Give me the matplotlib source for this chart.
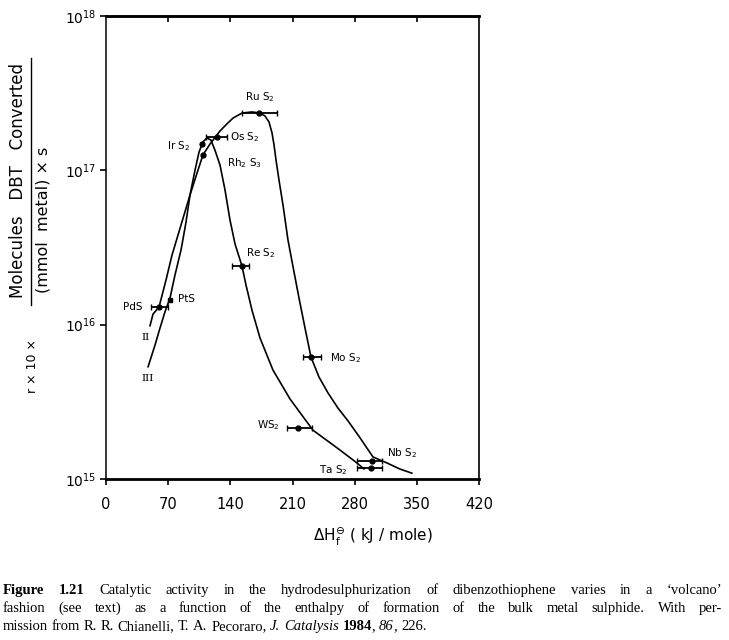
import matplotlib
matplotlib.use("Agg")
import matplotlib.pyplot as plt
from matplotlib.ticker import NullLocator, FixedLocator
from matplotlib.lines import Line2D

# ---------------- data ----------------
compounds = ['RuS2', 'OsS2', 'IrS2', 'Rh2S3', 'ReS2', 'PdS', 'PtS',
             'MoS2', 'WS2', 'NbS2', 'TaS2']
dH = [172, 125, 108, 109, 153, 60, 72, 231, 216, 299, 298]          # kJ/mole
rate = [2.35e17, 1.64e17, 1.48e17, 1.26e17, 2.4e16, 1.30e16, 1.45e16,
        6.2e15, 2.14e15, 1.31e15, 1.18e15]
err_lo = [19, 12, 0, 0, 11, 9, 0, 9, 12, 16, 15]
err_hi = [21, 11, 0, 0, 8, 10, 0, 11, 16, 12, 13]

# curve II (second-row metals, outer volcano)
curve2_x = [49.5, 52.9, 59.7, 67.6, 74.3, 84.5, 94.6, 102.5, 109.2, 117.1,
            128.4, 136.2, 143.0, 153.1, 164.4, 173.4, 179.0, 183.5, 186.9,
            189.2, 191.4, 194.8, 199.3, 204.9, 210.6, 217.3, 224.1, 230.8,
            239.8, 250.0, 261.2, 272.5, 286.0, 300.6, 316.4, 331.0, 344.6]
curve2_y = [9.8e15, 1.17e16, 1.30e16, 1.95e16, 2.82e16, 4.43e16, 6.92e16,
            9.6e16, 1.26e17, 1.48e17, 1.80e17, 2.0e17, 2.18e17, 2.35e17,
            2.39e17, 2.35e17, 2.25e17, 2.06e17, 1.75e17, 1.46e17, 1.17e17,
            8.65e16, 5.96e16, 3.54e16, 2.37e16, 1.49e16, 9.5e15, 6.17e15,
            4.58e15, 3.61e15, 2.88e15, 2.38e15, 1.85e15, 1.39e15, 1.27e15,
            1.16e15, 1.09e15]

# curve III (third-row metals, inner volcano)
curve3_x = [47.3, 55.2, 60.8, 66.4, 72.1, 77.7, 84.5, 90.1, 94.6, 100.2,
            104.7, 109.2, 113.7, 118.2, 122.7, 128.4, 134.0, 139.6, 145.3,
            153.1, 157.6, 164.4, 173.4, 188.0, 207.2, 233.1, 263.5, 282.6, 290.5]
curve3_y = [5.32e15, 7.38e15, 9.5e15, 1.21e16, 1.49e16, 2.10e16, 3.05e16,
            4.62e16, 6.92e16, 1.0e17, 1.31e17, 1.53e17, 1.62e17, 1.57e17,
            1.35e17, 1.08e17, 7.46e16, 4.77e16, 3.33e16, 2.40e16, 1.81e16,
            1.24e16, 8.2e15, 5.08e15, 3.30e15, 2.07e15, 1.54e15, 1.27e15, 1.16e15]

x_ticks = [0, 70, 140, 210, 280, 350, 420]
x_ticklabels = ['0', '70', '140', '210', '280', '350', '420']
y_ticks = [1e15, 1e16, 1e17, 1e18]
y_ticklabels = [r'$\mathregular{10^{15}}$', r'$\mathregular{10^{16}}$',
                r'$\mathregular{10^{17}}$', r'$\mathregular{10^{18}}$']

label_text = {
    'RuS2': r'Ru S$\mathregular{_2}$', 'OsS2': r'Os S$\mathregular{_2}$',
    'IrS2': r'Ir S$\mathregular{_2}$', 'Rh2S3': r'Rh$\mathregular{_2}$ S$\mathregular{_3}$',
    'ReS2': r'Re S$\mathregular{_2}$', 'PdS': 'PdS', 'PtS': 'PtS',
    'MoS2': r'Mo S$\mathregular{_2}$', 'WS2': r'WS$\mathregular{_2}$',
    'NbS2': r'Nb S$\mathregular{_2}$', 'TaS2': r'Ta S$\mathregular{_2}$',
}
# label placement (offset in pixels from the point, alignment)
label_layout = {
    'RuS2': (-14, 16, 'left'), 'OsS2': (13, 0, 'left'), 'IrS2': (-12, -2, 'right'),
    'Rh2S3': (24, -8, 'left'), 'ReS2': (4, 13, 'left'), 'PdS': (-17, 0, 'right'),
    'PtS': (8, 1, 'left'), 'MoS2': (19, -1, 'left'), 'WS2': (-18, 3, 'right'),
    'NbS2': (15, 8, 'left'), 'TaS2': (-23, -2, 'right'),
}

caption_lines = [
    [[('Figure', 'bold')], [('1.21', 'bold')], [('Catalytic', '')], [('activity', '')],
     [('in', '')], [('the', '')], [('hydrodesulphurization', '')], [('of', '')],
     [('dibenzothiophene', '')], [('varies', '')], [('in', '')], [('a', '')],
     [('\u2018volcano\u2019', '')]],
    [[(w, '')] for w in 'fashion (see text) as a function of the enthalpy of formation of the bulk metal sulphide. With per-'.split()],
    [[(w, '')] for w in 'mission from R. R. Chianelli, T. A. Pecoraro,'.split()] +
    [[('J.', 'italic')], [('Catalysis', 'italic')], [('1984', 'bold'), (',', '')],
     [('86', 'italic'), (',', '')], [('226.', '')]],
]

# ---------------- figure ----------------
W, H = 729, 640
fig = plt.figure(figsize=(W / 100, H / 100), dpi=100)
ax = fig.add_axes([106 / W, 1 - 479 / H, 373 / W, 463 / H])
ax.set_yscale('log')
ax.set_xlim(0, 420)
ax.set_ylim(1e15, 1e18)

ax.plot(curve2_x, curve2_y, color='k', lw=1.2, solid_capstyle='round',
        solid_joinstyle='round')
ax.plot(curve3_x, curve3_y, color='k', lw=1.2, solid_capstyle='round',
        solid_joinstyle='round')

for i, c in enumerate(compounds):
    marker = 's' if c == 'PtS' else 'o'
    if err_lo[i] or err_hi[i]:
        ax.errorbar(dH[i], rate[i], xerr=[[err_lo[i]], [err_hi[i]]], fmt=marker,
                    ms=3.5, color='k', ecolor='k', elinewidth=1.3, capsize=2.5,
                    capthick=1.0)
    else:
        ax.plot(dH[i], rate[i], marker=marker, ms=3.5, color='k', ls='none')
    dx, dy, ha = label_layout[c]
    ax.annotate(label_text[c], (dH[i], rate[i]), xytext=(dx, dy),
                textcoords='offset pixels', ha=ha, va='center', fontsize=7.5)

ax.annotate('II', (curve2_x[0], curve2_y[0]), xytext=(-4, -11),
            textcoords='offset pixels', ha='center', va='center', fontsize=7.5,
            family='DejaVu Serif')
ax.annotate('III', (curve3_x[0], curve3_y[0]), xytext=(0, -12),
            textcoords='offset pixels', ha='center', va='center', fontsize=7.5,
            family='DejaVu Serif')

ax.xaxis.set_major_locator(FixedLocator(x_ticks))
ax.set_xticklabels(x_ticklabels, fontsize=10.5)
ax.yaxis.set_major_locator(FixedLocator(y_ticks))
ax.set_yticklabels(y_ticklabels, fontsize=10)
ax.yaxis.set_minor_locator(NullLocator())
ax.xaxis.set_minor_locator(NullLocator())
ax.tick_params(axis='x', direction='out', length=4, width=1.2, pad=9)
ax.tick_params(axis='y', direction='out', length=4, width=1.2, pad=3)

top = ax.secondary_xaxis('top')
top.xaxis.set_major_locator(FixedLocator([70, 140, 210, 280, 350]))
top.tick_params(direction='in', length=4, width=1.2, labeltop=False)
top.spines['top'].set_linewidth(1.8)

ax.spines['bottom'].set_linewidth(2.0)
ax.spines['top'].set_linewidth(1.8)
ax.spines['left'].set_linewidth(1.1)
ax.spines['right'].set_linewidth(1.2)

# axis labels
fig.text(373 / W, 1 - 537 / H, r'$\mathregular{\Delta H_f^{\ominus}}$ ( kJ / mole)',
         ha='center', va='center', fontsize=11)
fig.text(18 / W, 1 - 181 / H, 'Molecules   DBT   Converted', rotation=90,
         ha='center', va='center', fontsize=12)
fig.add_artist(Line2D([31 / W, 31 / W], [1 - 58 / H, 1 - 305 / H], color='k', lw=1.0))
fig.text(43 / W, 1 - 220 / H, '(mmol  metal) \u00d7 s', rotation=90,
         ha='center', va='center', fontsize=11.5)
fig.text(33 / W, 1 - 366 / H, 'r \u00d7 10 \u00d7', rotation=90,
         ha='center', va='center', fontsize=9)

# caption (justified like the printed page)
renderer = fig.canvas.get_renderer()
x0, x1 = 3, 722
baselines = [594, 612, 630]
fs = 10.5


def make(txt, style, x, y):
    kw = dict(fontsize=fs, family='Liberation Serif', va='baseline', ha='left')
    if style == 'bold':
        kw['fontweight'] = 'bold'
    if style == 'italic':
        kw['fontstyle'] = 'italic'
    return fig.text(x / W, 1 - y / H, txt, **kw)


def width(t):
    return t.get_window_extent(renderer=renderer).width


probe = make('a a', '', 0, 0)
probe2 = make('aa', '', 0, 0)
space = width(probe) - width(probe2)
probe.remove(); probe2.remove()

for li, words in enumerate(caption_lines):
    y = baselines[li]
    widths = []
    for word in words:
        wsum = 0
        for seg, st in word:
            t = make(seg, st, 0, 0)
            wsum += width(t)
            t.remove()
        widths.append(wsum)
    if li < 2:
        gap = (x1 - x0 - sum(widths)) / (len(words) - 1)
    else:
        gap = space
    x = x0
    for word, wd in zip(words, widths):
        xx = x
        for seg, st in word:
            t = make(seg, st, xx, y)
            xx += width(t)
        x += wd + gap

fig.savefig('out.png', dpi=100)
